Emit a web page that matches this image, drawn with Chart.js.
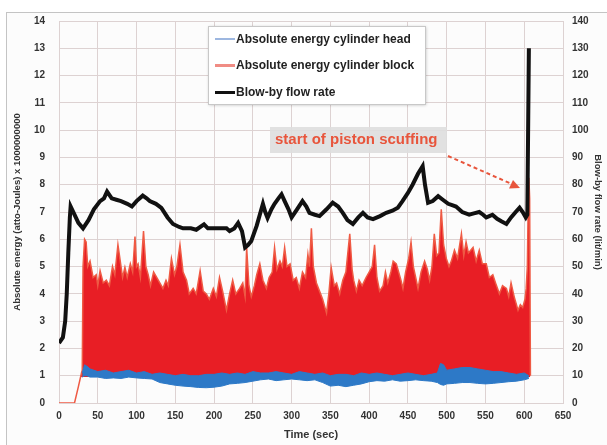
<!DOCTYPE html>
<html>
<head>
<meta charset="utf-8">
<script src="https://cdn.jsdelivr.net/npm/chart.js@4/dist/chart.umd.min.js"></script>
<style>
  html, body { margin: 0; padding: 0; background: #fff; }
  #wrap { width: 607px; height: 445px; }
</style>
</head>
<body>
<div id="wrap"><canvas id="grafico" width="607" height="445"></canvas></div>
<script>
  // Blow-by flow rate (lit/min), eje derecho
  const tiempoFlujo = [0, 5, 8, 10, 12, 14, 15, 20, 25, 31, 38, 45, 53, 58, 62, 68, 74, 80, 88, 94,
    100, 108, 113, 117, 125, 132, 140, 147, 155, 160, 170, 177, 187, 192, 198, 207, 216, 220, 226, 231,
    236, 240, 244, 248, 255, 263, 266, 269, 274, 278, 283, 287, 291, 296, 300, 307, 314, 319, 323, 330,
    336, 345, 353, 360, 366, 372, 379, 386, 392, 398, 405, 414, 422, 430, 437, 443, 450, 456, 463, 469,
    472, 476, 482, 489, 495, 502, 507, 512, 520, 529, 535, 542, 547, 551, 555, 559, 565, 571, 577, 583,
    589, 594, 598, 602, 604, 606];
  const flujoBlowby = [22, 24, 30, 40, 55, 68, 72, 69, 66, 64, 67, 71, 74, 75, 77.5, 75, 74.5, 74, 73, 72,
    74, 76, 75, 74, 73, 71.5, 68, 65.6, 64.5, 64, 64, 63.5, 65.5, 64, 64, 64, 64, 63, 64, 66,
    63, 57, 58, 59.4, 65, 73, 70, 67.8, 71, 73, 75, 76.5, 74, 71, 68, 71, 74, 72, 69.7, 69,
    68.5, 71, 73.4, 72, 69.7, 67, 65.6, 68, 69.7, 68, 67.4, 68.5, 69.7, 70.5, 71.6, 74, 77, 80, 84, 86.8,
    80, 73.4, 74, 75.8, 74.5, 73, 72.5, 72, 70, 69, 69.5, 70, 69, 68, 68.5, 69, 67.5, 66.5, 65.6, 68,
    70, 71.6, 70, 68, 69, 130];

  // Absolute energy cylinder block: envolvente superior de la señal
  const tiempoBloque = [0, 20, 25, 29, 30, 31, 33, 35, 37, 40, 44, 48, 50, 53, 57, 61, 65, 69, 72, 76,
    79, 82, 85, 88, 92, 95, 98, 100, 102, 105, 109, 112, 115, 118, 122, 126, 130, 134, 138, 141,
    145, 149, 152, 156, 160, 164.5, 168, 173, 177, 182, 186, 190, 194, 199, 203, 207, 211, 216, 220, 224,
    228, 233, 237, 240, 242, 245, 248, 252, 255, 259, 263, 267.5, 271, 275, 278, 281, 285, 288, 291, 294,
    298, 302, 306, 310, 314, 318, 321, 323, 325.5, 328, 332, 336, 340, 345, 348, 351, 355, 358, 362, 366,
    370, 375, 378, 380, 383.5, 387, 391, 396, 400, 404, 407, 410, 413.5, 418, 421, 424, 428, 431, 435, 438,
    441, 443.6, 447, 451, 454, 457, 460, 463, 467, 471.5, 475, 478, 481, 484, 487, 490, 493, 496, 499.5, 503,
    506, 510, 514, 519, 522, 525, 528, 531, 534, 538, 542, 546, 551, 555, 559.5, 563, 568, 572, 577, 580,
    583, 587, 592, 595, 598, 601, 602.5, 604, 605, 606, 607, 608];
  const energiaBloque = [0, 0, 0.6, 1.1, 1.2, 5.0, 6.0, 5.9, 5.0, 5.2, 4.6, 4.7, 4.3, 4.85, 4.4, 4.5, 4.3, 5.0, 4.7, 5.8,
    5.2, 4.6, 4.97, 4.6, 5.1, 4.8, 6.1, 5.0, 5.1, 4.6, 6.3, 5.0, 4.7, 4.3, 4.8, 4.6, 4.4, 4.2, 4.5, 4.3,
    5.3, 4.7, 5.0, 5.8, 4.8, 4.5, 4.0, 4.2, 4.0, 4.85, 4.1, 4.0, 3.8, 4.2, 3.9, 4.6, 4.1, 3.4, 4.0, 4.5,
    4.0, 4.2, 4.4, 3.9, 5.7, 4.3, 3.9, 4.3, 4.7, 5.1, 4.5, 4.2, 4.6, 4.8, 5.7, 4.9, 5.2, 5.0, 5.7, 5.0,
    5.1, 4.5, 4.6, 4.2, 4.8, 4.6, 5.45, 5.0, 6.4, 5.0, 4.4, 4.1, 3.8, 3.3, 4.0, 4.97, 4.3, 4.4, 4.0, 4.5,
    4.8, 6.2, 4.9, 4.5, 4.1, 4.5, 4.3, 4.6, 4.8, 5.0, 5.8, 4.6, 4.1, 4.3, 4.8, 4.4, 4.8, 5.2, 5.1, 4.8,
    4.5, 4.2, 4.8, 5.3, 5.9, 5.0, 4.6, 4.2, 4.8, 5.2, 4.9, 4.5, 5.0, 6.2, 5.4, 5.5, 7.1, 5.8, 5.3, 5.0,
    5.2, 5.6, 5.3, 6.2, 5.4, 5.9, 5.5, 5.6, 5.7, 5.2, 5.6, 5.1, 5.1, 4.6, 4.7, 4.4, 4.0, 4.3, 4.2, 3.9,
    4.4, 3.9, 3.4, 3.6, 3.5, 3.8, 4.2, 5.0, 7.0, 8.25, 7.5, 1.0];

  // Absolute energy cylinder head: banda (máximo y mínimo)
  const tiempoCabeza = [30, 33, 36, 40, 50, 60, 70, 80, 90, 100, 110, 120, 130, 140, 150, 160, 170, 180, 190, 200,
    210, 220, 230, 240, 250, 260, 270, 280, 290, 300, 310, 320, 330, 340, 350, 360, 370, 380, 390, 400,
    410, 420, 430, 440, 450, 460, 470, 480, 488, 492, 496, 500, 510, 520, 530, 540, 550, 560, 570, 580,
    590, 600, 606];
  const cabezaMax = [1.1, 1.4, 1.35, 1.25, 1.15, 1.2, 1.1, 1.15, 1.2, 1.1, 1.15, 1.05, 1.1, 1.05, 1.0, 1.05, 1.0, 1.0, 1.05, 1.05,
    1.1, 1.05, 1.1, 1.05, 1.15, 1.1, 1.1, 1.15, 1.1, 1.05, 1.15, 1.1, 1.05, 1.1, 1.0, 1.05, 1.05, 1.0, 1.1, 1.05,
    1.1, 1.05, 1.0, 1.05, 1.1, 1.05, 1.0, 1.05, 1.1, 1.45, 1.4, 1.2, 1.25, 1.3, 1.3, 1.25, 1.2, 1.15, 1.15, 1.1,
    1.05, 1.1, 1.0];
  const cabezaMin = [0.95, 1.0, 1.0, 0.95, 0.95, 0.9, 0.92, 0.9, 0.95, 0.92, 0.9, 0.88, 0.75, 0.7, 0.65, 0.62, 0.6, 0.57, 0.56, 0.58,
    0.62, 0.7, 0.72, 0.75, 0.8, 0.85, 0.88, 0.82, 0.85, 0.88, 0.85, 0.82, 0.85, 0.75, 0.62, 0.65, 0.6, 0.65, 0.7, 0.78,
    0.82, 0.8, 0.85, 0.8, 0.82, 0.85, 0.82, 0.8, 0.75, 0.68, 0.65, 0.7, 0.72, 0.75, 0.75, 0.72, 0.7, 0.72, 0.75, 0.78,
    0.8, 0.85, 0.9];

  const etiquetas = ['Absolute energy cylinder head', 'Absolute energy cylinder block', 'Blow-by flow rate'];
  const notaTexto = 'start of piston scuffing';

  const puntos = (xs, ys) => xs.map((x, i) => ({ x: x, y: ys[i] }));
  const FUENTE = '"Liberation Sans", Arial, sans-serif';

  // marco gris alrededor del gráfico
  const marco = {
    id: 'marco',
    beforeDraw(chart) {
      const c = chart.ctx;
      c.save();
      c.fillStyle = '#ffffff';
      c.fillRect(0, 0, chart.width, chart.height);
      c.fillStyle = '#fcfcfc';
      c.strokeStyle = '#c4c4c4';
      c.lineWidth = 1;
      c.fillRect(6.5, 12.5, 620, 450);
      c.strokeRect(6.5, 12.5, 620, 450);
      c.restore();
    }
  };

  // leyenda en caja y nota con flecha
  const leyendaNota = {
    id: 'leyendaNota',
    afterDraw(chart) {
      const c = chart.ctx;
      c.save();
      // caja de leyenda
      c.shadowColor = 'rgba(0,0,0,0.25)';
      c.shadowBlur = 3;
      c.shadowOffsetX = 1;
      c.shadowOffsetY = 1;
      c.fillStyle = '#ffffff';
      c.fillRect(208, 26, 217, 78);
      c.shadowColor = 'transparent';
      c.strokeStyle = '#c8c8c8';
      c.lineWidth = 1;
      c.strokeRect(208.5, 26.5, 217, 78);

      const muestras = [
        { color: '#7d9fd6', ancho: 1.5, y: 39 },
        { color: '#f08c84', ancho: 3, y: 65.5 },
        { color: '#111111', ancho: 3, y: 92.5 }
      ];
      c.font = 'bold 12px ' + FUENTE;
      c.textBaseline = 'middle';
      c.fillStyle = '#222';
      muestras.forEach((m, i) => {
        c.strokeStyle = m.color;
        c.lineWidth = m.ancho;
        c.beginPath();
        c.moveTo(215, m.y);
        c.lineTo(235, m.y);
        c.stroke();
        c.fillText(etiquetas[i], 236, m.y + 0.5);
      });

      // nota "start of piston scuffing"
      c.fillStyle = 'rgba(222,222,222,0.9)';
      c.fillRect(270, 127, 177, 26);
      c.font = 'bold 15px ' + FUENTE;
      c.fillStyle = '#e8553c';
      c.textBaseline = 'middle';
      c.fillText(notaTexto, 275, 140);

      // flecha discontinua
      c.strokeStyle = '#e8553c';
      c.lineWidth = 2;
      c.setLineDash([4, 3]);
      c.beginPath();
      c.moveTo(448, 156);
      c.lineTo(514, 185);
      c.stroke();
      c.setLineDash([]);
      c.fillStyle = '#e8553c';
      c.beginPath();
      c.moveTo(520, 188);
      c.lineTo(509, 188.5);
      c.lineTo(513, 180);
      c.closePath();
      c.fill();
      c.restore();
    }
  };

  const ctx = document.getElementById('grafico').getContext('2d');
  const colorRejilla = '#ddd2d2';
  const fuenteTicks = { family: FUENTE, size: 10, weight: 'bold' };

  new Chart(ctx, {
    type: 'line',
    data: {
      datasets: [
        {
          label: etiquetas[2],
          data: puntos(tiempoFlujo, flujoBlowby),
          yAxisID: 'y1',
          borderColor: '#111111',
          borderWidth: 4,
          pointRadius: 0,
          fill: false,
          order: 0
        },
        {
          label: etiquetas[1],
          data: puntos(tiempoBloque, energiaBloque),
          yAxisID: 'y',
          borderColor: '#ef5a44',
          borderWidth: 1.5,
          pointRadius: 0,
          fill: { target: { value: 0.95 }, above: '#e81e25', below: 'rgba(0,0,0,0)' },
          order: 2
        },
        {
          label: etiquetas[0],
          data: puntos(tiempoCabeza, cabezaMax),
          yAxisID: 'y',
          borderColor: '#2d79c7',
          borderWidth: 1,
          pointRadius: 0,
          backgroundColor: '#2d79c7',
          fill: '+1',
          order: 1
        },
        {
          label: 'head min',
          data: puntos(tiempoCabeza, cabezaMin),
          yAxisID: 'y',
          borderColor: '#2d79c7',
          borderWidth: 1,
          pointRadius: 0,
          fill: false,
          order: 1
        }
      ]
    },
    options: {
      responsive: false,
      animation: false,
      layout: { padding: { left: 8, right: 0, top: 21, bottom: 0 } },
      plugins: {
        legend: { display: false },
        tooltip: { enabled: false }
      },
      scales: {
        x: {
          type: 'linear',
          min: 0,
          max: 650,
          afterFit: s => { s.height = 42; },
          ticks: { stepSize: 50, color: '#333', font: fuenteTicks, padding: 7, maxRotation: 0 },
          grid: { color: colorRejilla, drawTicks: false },
          border: { color: colorRejilla },
          title: { display: true, text: 'Time (sec)', color: '#333', font: { family: FUENTE, size: 11, weight: 'bold' }, padding: { top: 2, bottom: 3 } }
        },
        y: {
          position: 'left',
          min: 0,
          max: 14,
          afterFit: s => { s.width = 51; },
          ticks: { stepSize: 1, color: '#333', font: fuenteTicks, padding: 14 },
          grid: { color: colorRejilla, drawTicks: false },
          border: { color: colorRejilla },
          title: { display: true, text: 'Absolute energy (atto-Joules) x 1000000000', color: '#333', font: { family: FUENTE, size: 9.5, weight: 'bold' }, padding: { top: 4, bottom: 4 } }
        },
        y1: {
          position: 'right',
          min: 0,
          max: 140,
          afterFit: s => { s.width = 44; },
          ticks: { stepSize: 10, color: '#333', font: fuenteTicks, padding: 9 },
          grid: { drawOnChartArea: false, drawTicks: false },
          border: { display: false },
          title: { display: true, text: 'Blow-by flow rate (lit/min)', color: '#333', font: { family: FUENTE, size: 9.5, weight: 'bold' }, padding: { top: 4, bottom: 4 } }
        }
      }
    },
    plugins: [marco, leyendaNota]
  });
</script>
</body>
</html>
